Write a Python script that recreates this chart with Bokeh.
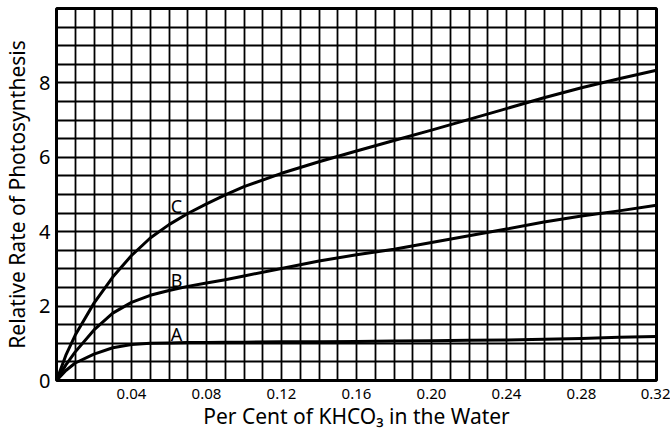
from bokeh.plotting import figure
from bokeh.models import FixedTicker, NumeralTickFormatter, Range1d, ColumnDataSource
from bokeh.core.properties import value
from bokeh.embed import file_html
from bokeh.resources import INLINE

# KHCO3 concentration (per cent)
conc = [0, 0.005, 0.01, 0.02, 0.03, 0.04, 0.05, 0.06, 0.07, 0.08, 0.09, 0.10,
        0.12, 0.14, 0.16, 0.18, 0.20, 0.22, 0.24, 0.26, 0.28, 0.30, 0.32]
rate_a = [0, 0.27, 0.47, 0.71, 0.88, 0.97, 1.00, 1.01, 1.02, 1.02, 1.03, 1.03,
          1.04, 1.04, 1.05, 1.06, 1.07, 1.08, 1.09, 1.11, 1.13, 1.16, 1.18]
rate_b = [0, 0.42, 0.77, 1.36, 1.81, 2.10, 2.29, 2.42, 2.53, 2.62, 2.71, 2.81,
          3.01, 3.21, 3.38, 3.53, 3.71, 3.89, 4.07, 4.26, 4.42, 4.56, 4.71]
rate_c = [0, 0.68, 1.22, 2.08, 2.78, 3.36, 3.83, 4.19, 4.49, 4.75, 4.99, 5.21,
          5.57, 5.88, 6.17, 6.45, 6.73, 7.02, 7.31, 7.60, 7.87, 8.11, 8.34]

curve_names = ["A", "B", "C"]
label_x = [0.064, 0.064, 0.064]
label_y = [1.24, 2.69, 4.68]

x_ticks = [0.04, 0.08, 0.12, 0.16, 0.20, 0.24, 0.28, 0.32]
y_ticks = [0, 2, 4, 6, 8]

FONT = "Noto Sans"

p = figure(frame_width=600, frame_height=372,
           x_range=Range1d(0, 0.32), y_range=Range1d(0, 10),
           output_backend="svg", toolbar_location=None,
           min_border_left=55, min_border_right=14, min_border_top=8, min_border_bottom=44)

p.background_fill_color = "white"
p.border_fill_color = "white"
p.outline_line_color = "black"
p.outline_line_width = 3

# grid: every 0.01 on x, every 0.5 on y
p.xgrid.ticker = FixedTicker(ticks=[i / 100 for i in range(1, 32)])
p.ygrid.ticker = FixedTicker(ticks=[i / 2 for i in range(1, 20)])
for g in (p.xgrid, p.ygrid):
    g.grid_line_color = "black"
    g.grid_line_width = 1.8
    g.grid_line_alpha = 1.0

p.xaxis.ticker = FixedTicker(ticks=x_ticks)
p.xaxis.formatter = NumeralTickFormatter(format="0.00")
p.yaxis.ticker = FixedTicker(ticks=y_ticks)

for ax in (p.xaxis, p.yaxis):
    ax.axis_line_color = None
    ax.major_tick_line_color = None
    ax.minor_tick_line_color = None
    ax.major_tick_out = 0
    ax.major_tick_in = 0
    ax.minor_tick_out = 0
    ax.major_label_text_font = FONT
    ax.major_label_text_color = "black"
    ax.axis_label_text_font = FONT
    ax.axis_label_text_font_style = "normal"
    ax.axis_label_text_color = "black"

p.xaxis.major_label_text_font_size = "15px"
p.yaxis.major_label_text_font_size = "20px"
p.xaxis.major_label_standoff = 8
p.yaxis.major_label_standoff = 6
p.xaxis.axis_label = "Per Cent of KHCO\u2083 in the Water"
p.yaxis.axis_label = "Relative Rate of Photosynthesis"
p.xaxis.axis_label_text_font_size = "21px"
p.yaxis.axis_label_text_font_size = "21px"
p.xaxis.axis_label_standoff = 0
p.yaxis.axis_label_standoff = 5

for ys in (rate_a, rate_b, rate_c):
    p.line(conc, ys, line_color="black", line_width=3, line_join="round")

src = ColumnDataSource(dict(x=label_x, y=label_y, t=curve_names))
p.text(x="x", y="y", text="t", source=src, text_font=value(FONT),
       text_font_size="18px", text_align="center", text_baseline="middle",
       text_color="black")

open("out.html", "w").write(file_html(p, INLINE))
